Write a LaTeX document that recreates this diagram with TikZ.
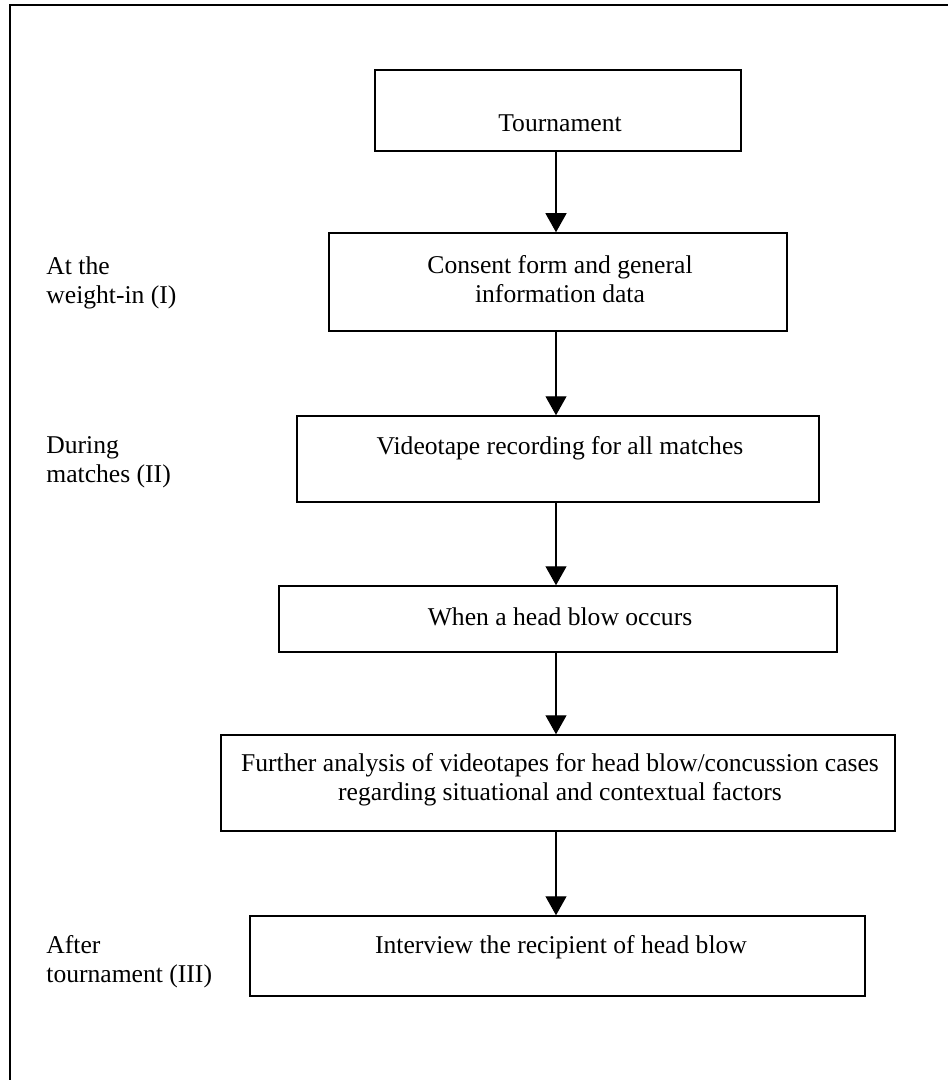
\documentclass[tikz,border=0pt]{standalone}
\usepackage{fontspec}
\setmainfont{Liberation Serif}
\usetikzlibrary{arrows.meta,fit}
\begin{document}
\begin{tikzpicture}[x=0.5pt,y=-0.5pt,
  every node/.style={font=\fontsize{12.8}{14.5}\selectfont},
  box/.style={draw, line width=0.75pt, inner sep=0pt, rectangle},
  txt/.style={inner sep=0pt, align=center},
  lbl/.style={inner sep=0pt, align=left, anchor=west},
  flow/.style={line width=0.6pt, -{Triangle[width=10.5pt,length=9.5pt]}}]
\useasboundingbox (0,0) rectangle (948,1080);
\draw[line width=1pt] (9.5,1080) -- (9.5,5.5) -- (948,5.5);
% boxes
\node[box, fit={(375,70)(741,151)}] (b1) {};
\node[box, fit={(329,233)(787,331)}] (b2) {};
\node[box, fit={(297,416)(819,502)}] (b3) {};
\node[box, fit={(279,586)(837,652)}] (b4) {};
\node[box, fit={(221,735)(895,831)}] (b5) {};
\node[box, fit={(250,916)(865,996)}] (b6) {};
% texts
\node[txt] (t1) at (560,123) {Tournament};
\node[txt] (t2) at (560,279) {Consent form and general\\information data};
\node[txt] (t3) at (560,448) {Videotape recording for all matches};
\node[txt] (t4) at (560,617) {When a head blow occurs};
\node[txt] (t5) at (560,780) {Further analysis of videotapes for head blow/concussion cases\\regarding situational and contextual factors};
\node[txt] (t6) at (561,947) {Interview the recipient of head blow};
% side labels
\node[lbl] (l1) at (46,283) {At the\\weight-in (I)};
\node[lbl] (l2) at (46,462) {During\\matches (II)};
\node[lbl] (l3) at (46,962) {After\\tournament (III)};
% arrows
\coordinate (ax) at (556,0);
\draw[flow] (b1.south -| ax) -- (b2.north -| ax);
\draw[flow] (b2.south -| ax) -- (b3.north -| ax);
\draw[flow] (b3.south -| ax) -- (b4.north -| ax);
\draw[flow] (b4.south -| ax) -- (b5.north -| ax);
\draw[flow] (b5.south -| ax) -- (b6.north -| ax);
\end{tikzpicture}
\end{document}
